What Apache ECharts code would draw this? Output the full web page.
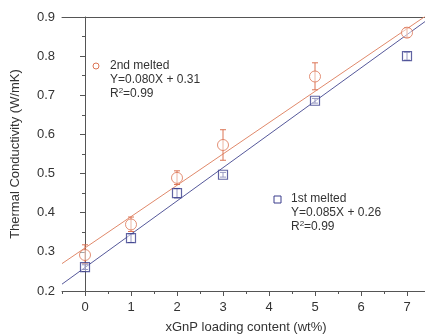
<!DOCTYPE html>
<html>
<head>
<meta charset="utf-8">
<script src="https://cdn.jsdelivr.net/npm/echarts@6/dist/echarts.min.js"></script>
<style>
  html, body { margin: 0; padding: 0; background: #fff; }
  #chart { width: 425px; height: 335px; }
</style>
</head>
<body>
<div id="chart"></div>
<script>
// loading content (wt%)
const loading = [0, 1, 2, 3, 5, 7];
const xTickLabels = [0, 1, 2, 3, 4, 5, 6, 7];

// 2nd melted: mean and error bar ends
const melt2 = [0.292, 0.370, 0.489, 0.573, 0.748, 0.860];
const melt2Low = [0.270, 0.352, 0.472, 0.534, 0.714, 0.848];
const melt2High = [0.318, 0.389, 0.507, 0.612, 0.783, 0.872];

// 1st melted
const melt1 = [0.261, 0.335, 0.450, 0.497, 0.686, 0.800];
const melt1Low = [0.255, 0.324, 0.438, 0.491, 0.680, 0.790];
const melt1High = [0.267, 0.346, 0.462, 0.503, 0.692, 0.810];

// linear fit end points
const fitX = [-0.5, 7.5];
const fit2Y = [0.270, 0.910];
const fit1Y = [0.2175, 0.8975];

const orange = "#dc7454";
const navy = "#3a3d8c";
const axisColor = "#555";
const textColor = "#333";
const font = "Liberation Sans";

const chart = echarts.init(document.getElementById("chart"));

function errorSeries(low, high, color) {
  return {
    type: "custom",
    z: 3,
    data: loading.map((x, i) => [x, low[i], high[i]]),
    renderItem(params, api) {
      const lo = api.coord([api.value(0), api.value(1)]);
      const hi = api.coord([api.value(0), api.value(2)]);
      const w = 3;
      const style = { stroke: color, lineWidth: 1 };
      return {
        type: "group",
        children: [
          { type: "line", shape: { x1: lo[0], y1: lo[1], x2: hi[0], y2: hi[1] }, style },
          { type: "line", shape: { x1: lo[0] - w, y1: lo[1], x2: lo[0] + w, y2: lo[1] }, style },
          { type: "line", shape: { x1: hi[0] - w, y1: hi[1], x2: hi[0] + w, y2: hi[1] }, style },
        ],
      };
    },
  };
}

function noteText(x, y, lines) {
  return {
    type: "text",
    left: x,
    top: y,
    style: {
      text: lines.join("\n"),
      fontFamily: font,
      fontSize: 12,
      lineHeight: 14,
      fill: textColor,
      rich: { sup: { fontSize: 8, verticalAlign: "top", lineHeight: 10, fill: textColor } },
    },
  };
}

chart.setOption({
  animation: false,
  grid: { left: 62, right: -5, top: 17, bottom: 44, outerBoundsMode: "none" },
  xAxis: [
    {
      // line, half-step ticks, labels and name
      type: "value",
      min: -0.5,
      max: 7.5,
      interval: 0.5,
      name: "xGnP loading content (wt%)",
      nameLocation: "middle",
      nameGap: 30,
      nameTextStyle: { fontFamily: font, fontSize: 13, color: textColor },
      axisLine: { onZero: false, lineStyle: { color: axisColor, width: 1 } },
      axisTick: { length: 3, lineStyle: { color: axisColor } },
      axisLabel: {
        customValues: xTickLabels,
        fontFamily: font,
        fontSize: 13,
        color: textColor,
        margin: 10,
      },
      splitLine: { show: false },
    },
    {
      // longer ticks at whole numbers
      type: "value",
      position: "bottom",
      min: -0.5,
      max: 7.5,
      axisLine: { show: false },
      axisTick: { show: true, customValues: xTickLabels, length: 5, lineStyle: { color: axisColor } },
      axisLabel: { show: false },
      splitLine: { show: false },
    },
    {
      // top frame line
      type: "value",
      position: "top",
      min: -0.5,
      max: 7.5,
      axisLine: { show: true, lineStyle: { color: axisColor, width: 1 } },
      axisTick: { show: false },
      axisLabel: { show: false },
      splitLine: { show: false },
    },
  ],
  yAxis: {
    type: "value",
    min: 0.2,
    max: 0.9,
    interval: 0.1,
    name: "Thermal Conductivity (W/mK)",
    nameLocation: "middle",
    nameGap: 40,
    nameTextStyle: { fontFamily: font, fontSize: 13, color: textColor },
    axisLine: { show: true, lineStyle: { color: axisColor, width: 1 } },
    axisTick: { length: 5, lineStyle: { color: axisColor } },
    minorTick: { show: true, splitNumber: 2, length: 3, lineStyle: { color: axisColor } },
    axisLabel: {
      fontFamily: font,
      fontSize: 13,
      color: textColor,
      margin: 7,
      formatter: (v) => v.toFixed(1),
    },
    splitLine: { show: false },
  },
  series: [
    {
      type: "line",
      data: fitX.map((x, i) => [x, fit2Y[i]]),
      symbol: "none",
      lineStyle: { color: "#e0896b", width: 1 },
      z: 2,
    },
    {
      type: "line",
      data: fitX.map((x, i) => [x, fit1Y[i]]),
      symbol: "none",
      lineStyle: { color: "#55589a", width: 1 },
      z: 2,
    },
    errorSeries(melt2Low, melt2High, orange),
    errorSeries(melt1Low, melt1High, navy),
    {
      name: "2nd melted",
      type: "scatter",
      data: loading.map((x, i) => [x, melt2[i]]),
      symbol: "circle",
      symbolSize: 11,
      itemStyle: { color: "rgba(255,255,255,0.6)", borderColor: orange, borderWidth: 1 },
      z: 4,
    },
    {
      name: "1st melted",
      type: "scatter",
      data: loading.map((x, i) => [x, melt1[i]]),
      symbol: "rect",
      symbolSize: 9,
      itemStyle: { color: "rgba(255,255,255,0.6)", borderColor: navy, borderWidth: 1.2 },
      z: 4,
    },
  ],
  graphic: [
    { type: "circle", shape: { cx: 96, cy: 66, r: 3 }, style: { fill: "none", stroke: orange, lineWidth: 1 } },
    noteText(110, 59, ["2nd melted", "Y=0.080X + 0.31", "R{sup|2}=0.99"]),
    { type: "rect", shape: { x: 274, y: 196, width: 7, height: 7 }, style: { fill: "none", stroke: navy, lineWidth: 1 } },
    noteText(291, 192, ["1st melted", "Y=0.085X + 0.26", "R{sup|2}=0.99"]),
  ],
});
</script>
</body>
</html>
